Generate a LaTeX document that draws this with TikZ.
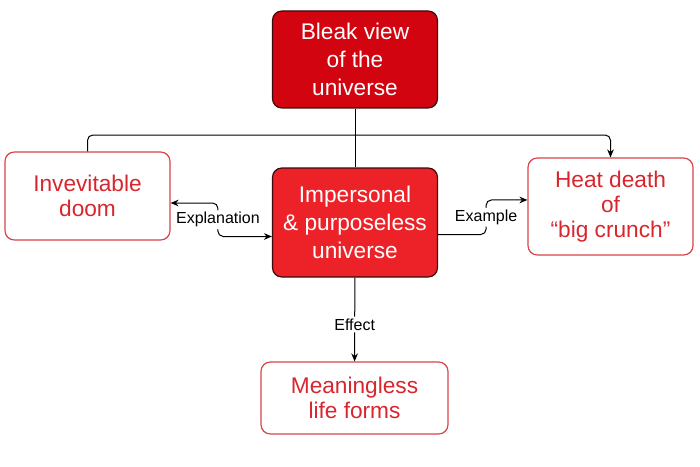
\documentclass[tikz,border=0pt]{standalone}
\usepackage{fontspec}
\setmainfont{Liberation Sans}
\usetikzlibrary{arrows.meta}

\definecolor{bleakred}{HTML}{D2040F}
\definecolor{centrered}{HTML}{EC2228}
\definecolor{boxedge}{HTML}{3C0A0A}
\definecolor{linered}{HTML}{D9444A}
\definecolor{textred}{HTML}{D8262E}

\tikzset{
    redbox/.style={draw=boxedge, line width=0.9pt, rounded corners=7pt,
        text=white, align=center, inner sep=0pt,
        font=\fontsize{17}{20.8}\selectfont},
    whitebox/.style={draw=linered, line width=0.9pt, rounded corners=7pt,
        fill=white, text=textred, align=center, inner sep=0pt,
        font=\fontsize{17}{19}\selectfont},
    link/.style={draw=black, line width=0.75pt, rounded corners=4pt},
    linklabel/.style={fill=white, inner sep=1.5pt, text=black,
        font=\fontsize{12}{14}\selectfont},
    tip/.style={-{Stealth[length=6pt,width=5pt]}},
}

\begin{document}
\begin{tikzpicture}[x=0.75pt, y=-0.75pt]
    \useasboundingbox [fill=white] (0,0) rectangle (700,467);

    % boxes
    \node [redbox, fill=bleakred, minimum width=123.75pt, minimum height=72.75pt]
        (bleak) at (355,59.5) {Bleak view\\of the\\universe};
    \node [redbox, fill=centrered, minimum width=123.75pt, minimum height=81.75pt]
        (impersonal) at (355,222.5) {Impersonal\\\& purposeless\\universe};
    \node [whitebox, minimum width=123.75pt, minimum height=66pt]
        (doom) at (87.5,196) {Invevitable\\doom};
    \node [whitebox, minimum width=123.75pt, minimum height=72.75pt]
        (heat) at (610.5,206.5) {Heat death\\of\\“big crunch”};
    \node [whitebox, minimum width=140.25pt, minimum height=54pt]
        (meaningless) at (354.5,398) {Meaningless\\life forms};

    \coordinate (topbar) at (0,135);

    % connectors
    \draw [link] (bleak) -- (impersonal);
    \draw [link, tip] (doom.north) -- (doom.north |- topbar)
        -- (heat.north |- topbar) -- (heat.north);
    \draw [link, {Stealth[length=6pt,width=5pt]}-{Stealth[length=6pt,width=5pt]}]
        ([yshift=-10.5pt]impersonal.west) -- ++(-54,0)
        |- node [linklabel, pos=0.25] {Explanation} ([yshift=-5.25pt]doom.east);
    \draw [link, tip]
        ([yshift=-9pt]impersonal.east) -- ++(48,0)
        |- node [linklabel, pos=0.25] {Example} ([yshift=4.9pt]heat.west);
    \draw [link, tip] (impersonal) -- node [linklabel, pos=0.56] {Effect} (meaningless);
\end{tikzpicture}
\end{document}
